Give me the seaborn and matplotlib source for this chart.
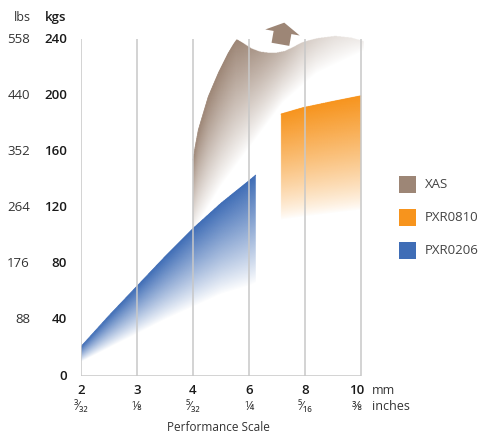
import numpy as np
import pandas as pd
import matplotlib.pyplot as plt
import matplotlib.patches as mpatches
from matplotlib.markers import MarkerStyle
from matplotlib.path import Path
from matplotlib.transforms import Affine2D
import seaborn as sns

# ---- data ----
sizes_mm = ["2", "3", "4", "6", "8", "10"]
sizes_in = ["³⁄₃₂", "⅛", "⁵⁄₃₂", "¼", "⁵⁄₁₆", "⅜"]
kgs_ticks = [0, 40, 80, 120, 160, 200, 240]
lbs_labels = ["", "88", "176", "264", "352", "440", "558"]

# PXR0206 (blue): top edge and where the gradient fades out
blue_x = [0, 0.5, 1, 1.5, 2, 2.5, 3, 3.12]
blue_top = [21, 43, 64, 85, 105, 123, 139, 143]
blue_fade = [10, 20, 30, 40, 49, 58, 64, 66]

# XAS (brown)
xas_x = [2.0, 2.036, 2.095, 2.184, 2.273, 2.363, 2.452, 2.541, 2.63, 2.72, 2.78,
         2.9, 3.05, 3.2, 3.345, 3.49, 3.64, 3.79, 3.94, 4.09, 4.24, 4.54, 4.83, 4.98, 5.05]
xas_top = [153.8, 162.6, 175.2, 187.1, 198.9, 207.3, 215.6, 222.7, 229.8, 235.8, 239.3,
           236.5, 232.7, 230.5, 229.8, 229.8, 231, 233.8, 237, 238.8, 240.2, 241.7, 240.5, 238.8, 238]
xas_fade_x = [2.0, 2.5, 3.0, 3.6, 4.2, 5.05]
xas_fade = [102, 135, 162, 194, 215, 231]
xas_strength_x = [2.0, 2.8, 3.3, 3.9, 4.5, 5.05]
xas_strength = [1.0, 1.0, 0.75, 0.45, 0.27, 0.15]
arrow_pos = (3.59, 245)

# PXR0810 (orange)
pxr0810_x = [3.571, 3.96, 4.57, 5.0]
pxr0810_top = [186.4, 190.9, 196, 199.4]
pxr0810_fade = [111, 113, 116, 118]

series = ["XAS", "PXR0810", "PXR0206"]
colors = {"XAS": "#9d8676", "PXR0810": "#f7941d", "PXR0206": "#3f6db6"}

sns.set_theme(style="white")
plt.rcParams['font.family'] = ['Open Sans', 'DejaVu Sans']

W, H = 481, 436
fig = plt.figure(figsize=(W / 100, H / 100), dpi=100)
ax = fig.add_axes([81 / W, 60 / H, 400 / W, 376 / H])
xmax = 400 / 56
ymax = 376 / 1.404

nx, ny = 1000, 940
X, Y = np.meshgrid(np.linspace(0, xmax, nx), np.linspace(0, ymax, ny))


def gradient(xs, top, fx, fade, x0, x1, color, gamma, z, sx=None, sv=None):
    T = np.interp(X, xs, top)
    B = np.interp(X, fx, fade)
    a = np.clip((Y - B) / (T - B), 0, 1) ** gamma
    if sx is not None:
        a = a * np.interp(X, sx, sv)
    a[(Y > T) | (X < x0) | (X > x1)] = 0
    rgba = np.zeros(X.shape + (4,))
    rgba[..., :3] = plt.matplotlib.colors.to_rgb(color)
    rgba[..., 3] = a
    ax.imshow(rgba, extent=(0, xmax, 0, ymax), origin='lower', aspect='auto',
              interpolation='antialiased', zorder=z)


gradient(xas_x, xas_top, xas_fade_x, xas_fade, 2.0, 5.05, colors["XAS"], 0.9, 1,
         xas_strength_x, xas_strength)
gradient(pxr0810_x, pxr0810_top, pxr0810_x, pxr0810_fade, 3.571, 5.0,
         colors["PXR0810"], 0.8, 2)
gradient(blue_x, blue_top, blue_x, blue_fade, 0, 3.12, colors["PXR0206"], 0.9, 3)

# crisp top edges
sns.lineplot(x=xas_x[:12], y=xas_top[:12], color=colors["XAS"], lw=0.5, ax=ax, zorder=1.5)
sns.lineplot(x=pxr0810_x, y=pxr0810_top, color=colors["PXR0810"], lw=0.5, ax=ax, zorder=2.5)
sns.lineplot(x=blue_x, y=blue_top, color=colors["PXR0206"], lw=0.5, ax=ax, zorder=3.5)

# arrow marker above the XAS wave
verts = [(-17.5, 0), (0, 10), (17.5, 0), (9, 0), (9, -12), (-9, -12), (-9, 0), (-17.5, 0)]
arrow = MarkerStyle(Path(verts, closed=True), transform=Affine2D().rotate_deg(-10))
ax.scatter([arrow_pos[0]], [arrow_pos[1]], marker=arrow, s=(35 / 1.389) ** 2,
           color=colors["XAS"], linewidths=0, zorder=4, clip_on=False)

# grid / axes lines
gc = "#c8c8c8"
xs_idx = np.arange(len(sizes_mm))
ax.vlines(xs_idx, -2.5, 240, color=gc, lw=1.1, zorder=5)
ax.hlines(0, -0.07, 5, color=gc, lw=1.1, zorder=5)
ax.hlines(kgs_ticks, -0.07, 0, color=gc, lw=1.1, zorder=5)

ax.set_xlim(0, xmax)
ax.set_ylim(0, ymax)
ax.axis('off')

# labels
for k, lb in zip(kgs_ticks, lbs_labels):
    ax.text(-0.25, k, str(k), ha='right', va='center', fontsize=9.5,
            fontweight='semibold', color='#1a1a1a', clip_on=False)
    if lb:
        ax.text(-0.91, k, lb, ha='right', va='center', fontsize=9.5,
                color='#333333', clip_on=False)
ax.text(-1.04, 255, "lbs", ha='center', va='center', fontsize=9, color='#333333', clip_on=False)
ax.text(-0.46, 255, "kgs", ha='center', va='center', fontsize=9.5,
        fontweight='semibold', color='#1a1a1a', clip_on=False)

for i, (mm, inch) in enumerate(zip(sizes_mm, sizes_in)):
    dx = -0.08 if i == len(sizes_mm) - 1 else 0
    ax.text(i + dx, -10, mm, ha='center', va='center', fontsize=9.5,
            fontweight='semibold', color='#1a1a1a', clip_on=False)
    ax.text(i + dx, -22, inch, ha='center', va='center', fontsize=9,
            color='#333333', clip_on=False)
ax.text(5.2, -10, "mm", ha='left', va='center', fontsize=9, color='#333333', clip_on=False)
ax.text(5.2, -22, "inches", ha='left', va='center', fontsize=9, color='#333333', clip_on=False)
ax.text(2.46, -37, "Performance Scale", ha='center', va='center', fontsize=8.5,
        color='#333333', clip_on=False)

# legend
for i, name in enumerate(series):
    yc = 184.5 + 33.2 * i
    fig.add_artist(mpatches.Rectangle((399 / W, 1 - (yc + 8.5) / H), 17 / W, 17 / H,
                                      transform=fig.transFigure, color=colors[name], lw=0))
    fig.text(425 / W, 1 - yc / H, name, ha='left', va='center', fontsize=9.5, color='#444444')

fig.savefig("out.png", dpi=100)
